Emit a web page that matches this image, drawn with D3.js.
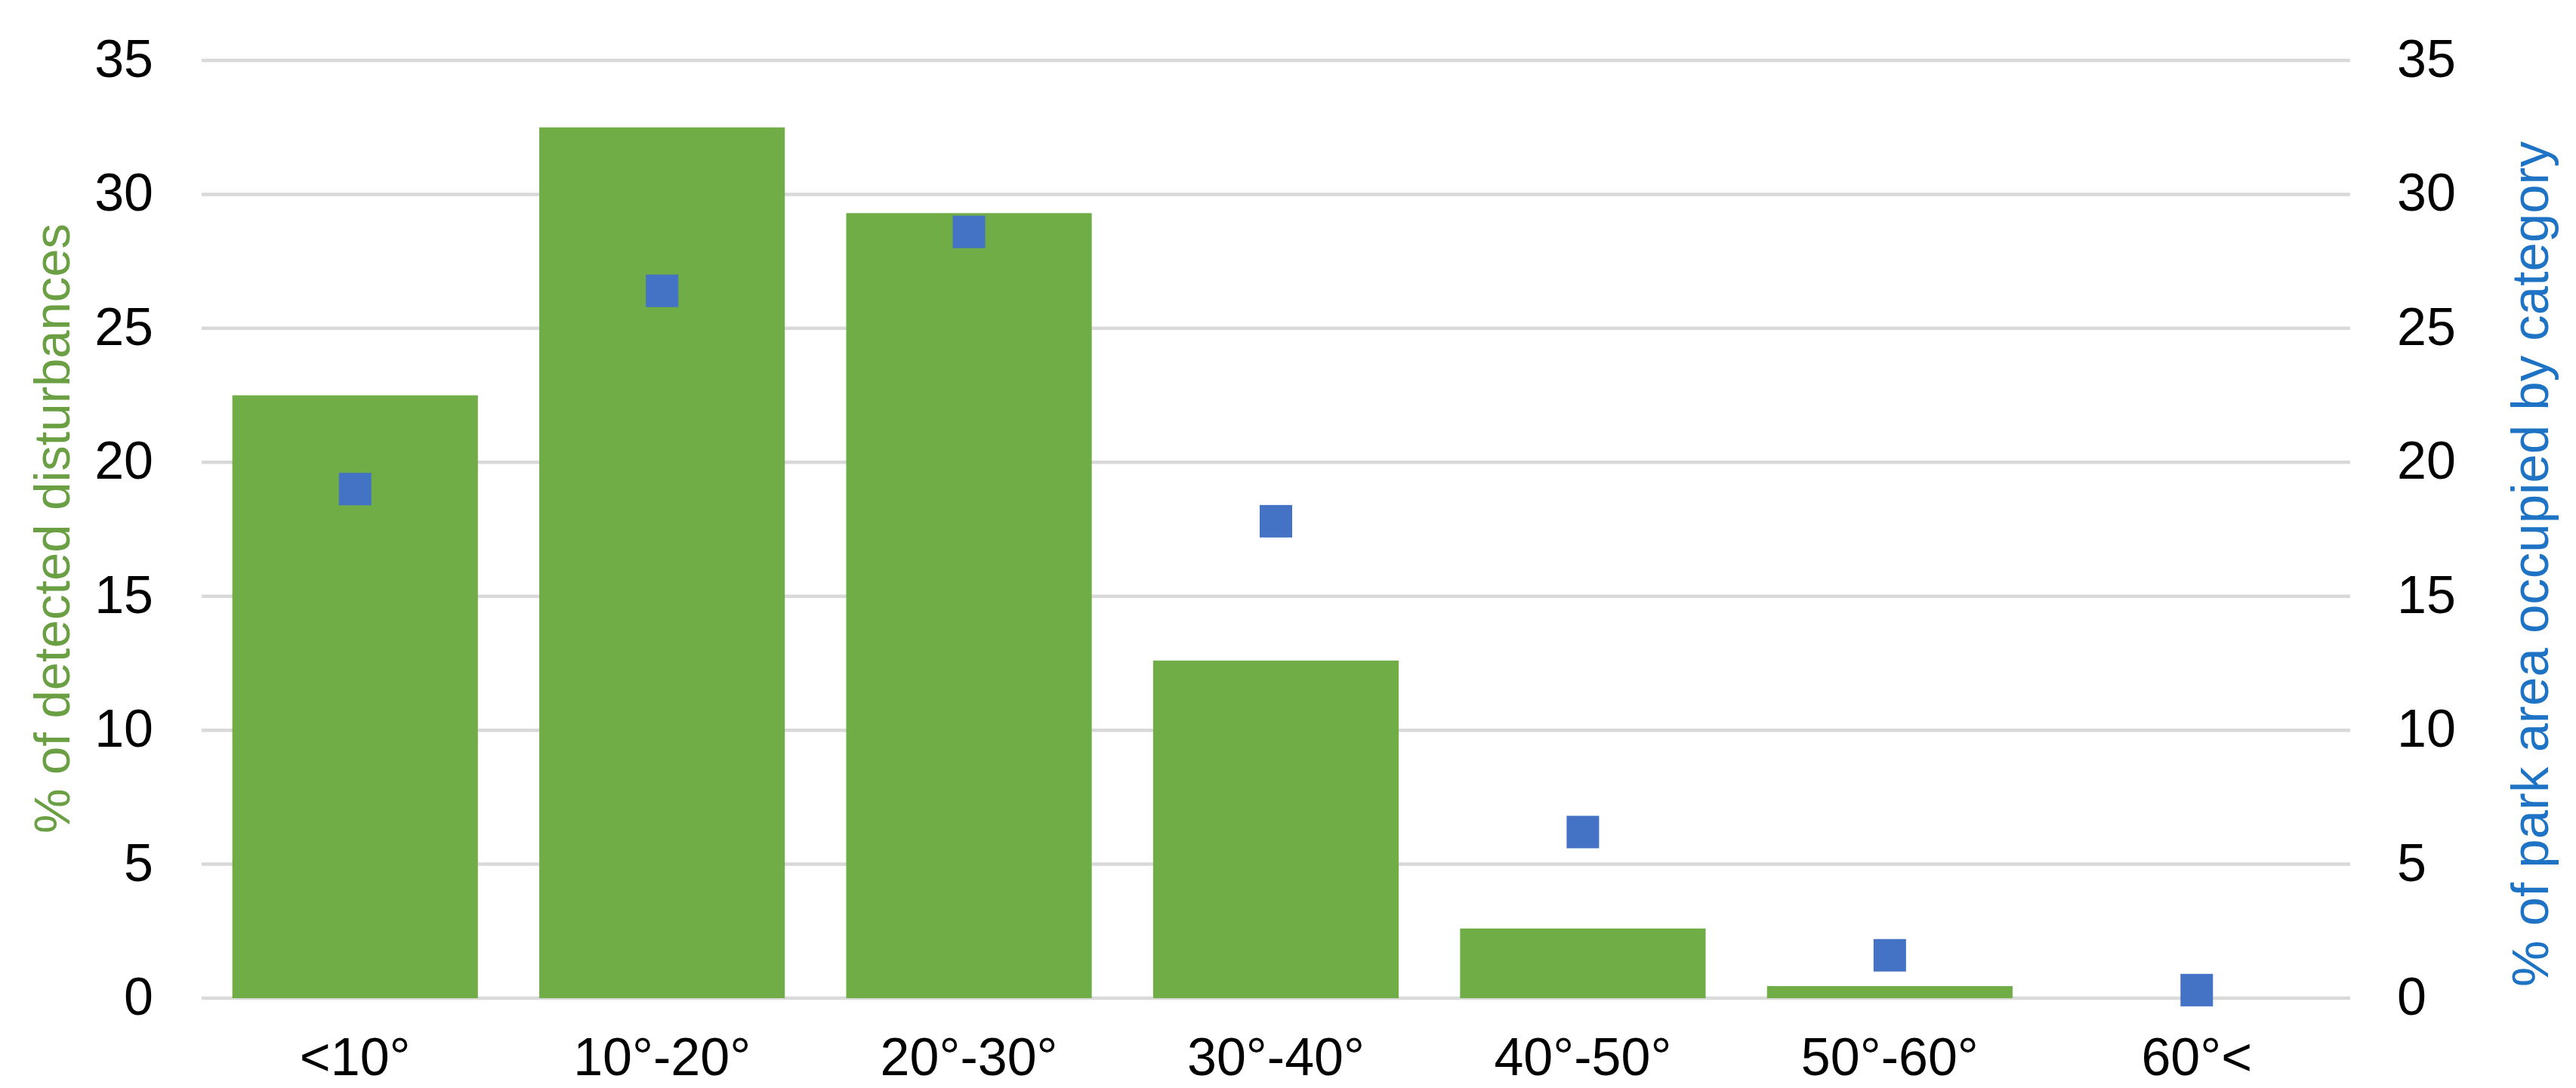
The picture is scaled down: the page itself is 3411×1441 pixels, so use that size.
<!DOCTYPE html>
<html>
<head>
<meta charset="utf-8">
<script src="https://cdn.jsdelivr.net/npm/d3@7"></script>
<style>
  html, body { margin: 0; padding: 0; background: #fff; }
  svg { display: block; }
  text { font-family: Arial, "Liberation Sans", sans-serif; }
</style>
</head>
<body>
<svg id="chart" width="3411" height="1441"></svg>
<script>
const categories = ["<10°", "10°-20°", "20°-30°", "30°-40°", "40°-50°", "50°-60°", "60°<"];
const disturbances = [22.5, 32.5, 29.3, 12.6, 2.6, 0.45, 0];
const parkArea = [19.0, 26.4, 28.6, 17.8, 6.2, 1.6, 0.3];
const yTicks = [0, 5, 10, 15, 20, 25, 30, 35];
const leftTitle = "% of detected disturbances";
const rightTitle = "% of park area occupied by category";

const W = 3411, H = 1441;
const plot = { left: 267, right: 3112, top: 80, bottom: 1322 };

const svg = d3.select("#chart");

const x = d3.scaleBand().domain(categories)
  .range([plot.left, plot.right]).paddingInner(0.2).paddingOuter(0.1);
const yL = d3.scaleLinear().domain([0, 35]).range([plot.bottom, plot.top]);
const yR = d3.scaleLinear().domain([0, 35]).range([plot.bottom, plot.top]);

// gridlines
svg.append("g").selectAll("line").data(yTicks).join("line")
  .attr("x1", plot.left).attr("x2", plot.right)
  .attr("y1", d => yL(d)).attr("y2", d => yL(d))
  .attr("stroke", "#d9d9d9").attr("stroke-width", 4.5);

// bars
svg.append("g").selectAll("rect").data(disturbances).join("rect")
  .attr("x", (d, i) => x(categories[i]))
  .attr("width", x.bandwidth())
  .attr("y", d => yL(d))
  .attr("height", d => yL(0) - yL(d))
  .attr("fill", "#70ad47");

// markers
const ms = 43;
svg.append("g").selectAll("rect").data(parkArea).join("rect")
  .attr("x", (d, i) => x(categories[i]) + x.bandwidth() / 2 - ms / 2)
  .attr("y", d => yR(d) - ms / 2)
  .attr("width", ms).attr("height", ms)
  .attr("fill", "#4472c4");

// left axis
const leftAxis = d3.axisLeft(yL).tickValues(yTicks).tickSize(0).tickPadding(0);
const gL = svg.append("g").attr("transform", "translate(203,0)").call(leftAxis);
gL.select(".domain").remove();
gL.selectAll("text").attr("font-size", 70).attr("fill", "#000")
  .attr("font-family", "Arial, 'Liberation Sans', sans-serif")
  .attr("dy", null).attr("y", 21.5);

// right axis
const rightAxis = d3.axisRight(yR).tickValues(yTicks).tickSize(0).tickPadding(0);
const gR = svg.append("g").attr("transform", "translate(3174,0)").call(rightAxis);
gR.select(".domain").remove();
gR.selectAll("text").attr("font-size", 70).attr("fill", "#000")
  .attr("font-family", "Arial, 'Liberation Sans', sans-serif")
  .attr("dy", null).attr("y", 21.5);

// bottom axis
const bottomAxis = d3.axisBottom(x).tickSize(0).tickPadding(0);
const gB = svg.append("g").attr("transform", "translate(0,1424)").call(bottomAxis);
gB.select(".domain").remove();
gB.selectAll("text").attr("font-size", 70).attr("fill", "#000")
  .attr("font-family", "Arial, 'Liberation Sans', sans-serif")
  .attr("dy", null).attr("y", 0);

// axis titles
svg.append("text")
  .attr("transform", "translate(92,700) rotate(-90)")
  .attr("text-anchor", "middle")
  .attr("font-size", 67)
  .attr("fill", "#6a9f44")
  .text(leftTitle);

svg.append("text")
  .attr("transform", "translate(3374,747) rotate(-90)")
  .attr("text-anchor", "middle")
  .attr("font-size", 69)
  .attr("fill", "#1f73c4")
  .text(rightTitle);
</script>
</body>
</html>
